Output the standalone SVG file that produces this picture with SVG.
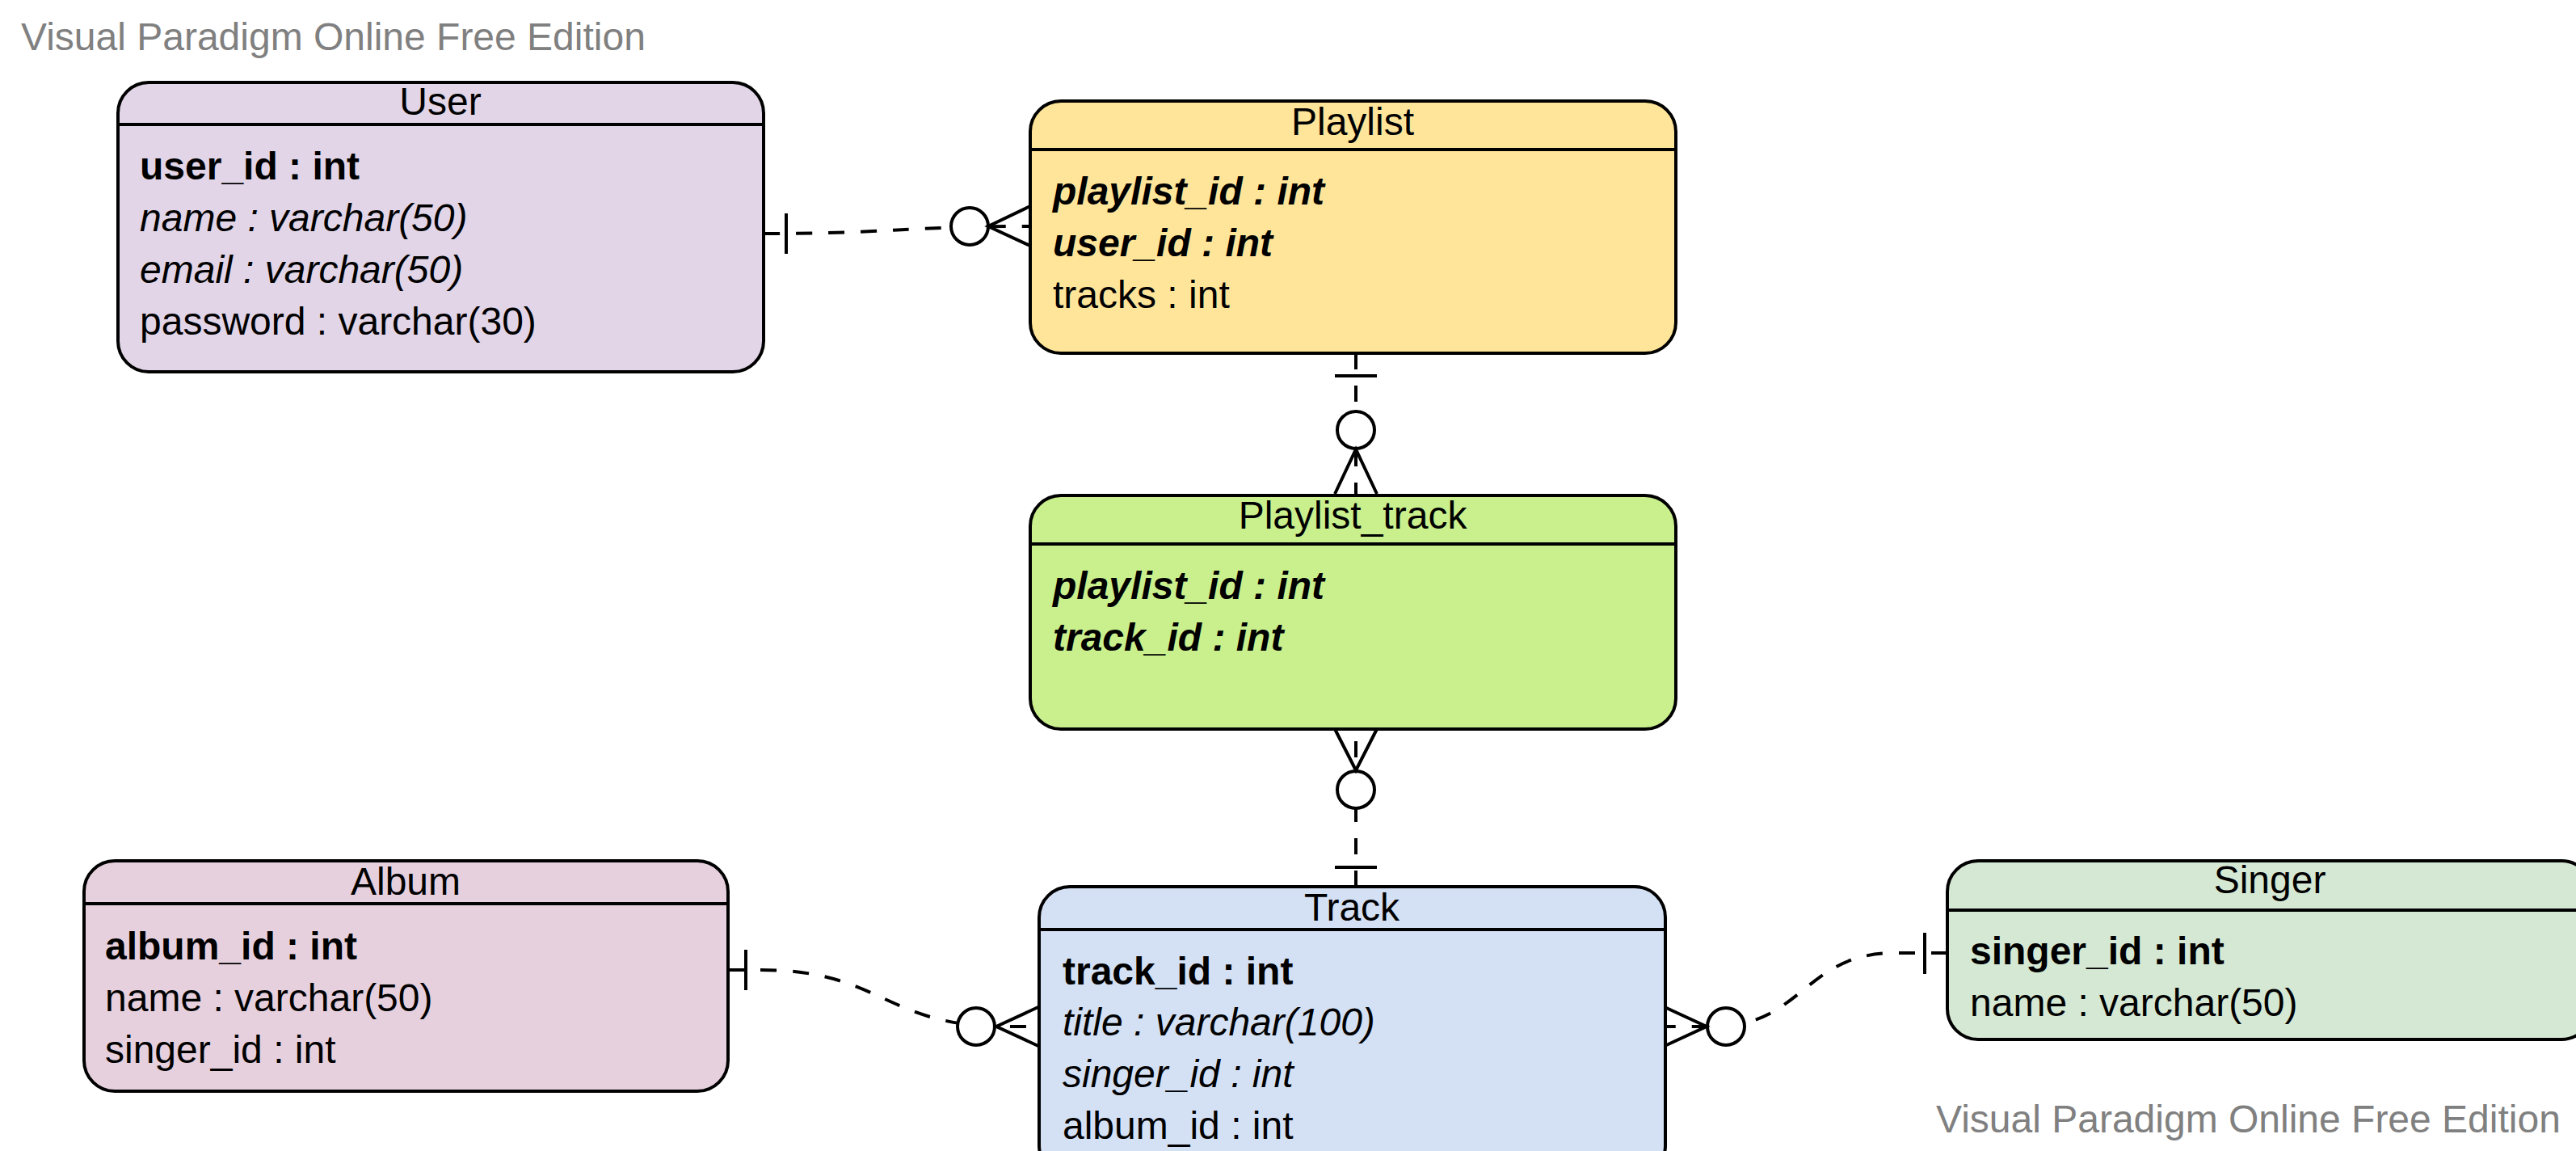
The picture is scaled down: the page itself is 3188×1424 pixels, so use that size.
<svg xmlns="http://www.w3.org/2000/svg" width="3188" height="1424" viewBox="0 0 3188 1424">
<style>
text{font-family:"Liberation Sans",Arial,sans-serif;font-size:48px;fill:#000}
.wm{fill:#808080}
.title{text-anchor:middle}
.b{font-weight:bold}
.i{font-style:italic}
.bi{font-weight:bold;font-style:italic}
.box{stroke:#000;stroke-width:4}
.hl{stroke:#000;stroke-width:4}
.conn{fill:none;stroke:#000;stroke-width:4;stroke-dasharray:20 20}
.mk{fill:none;stroke:#000;stroke-width:4}
.circ{fill:#fff;stroke:#000;stroke-width:4}
</style>
<rect width="3188" height="1424" fill="#fff"/>
<text class="wm" x="26" y="62">Visual Paradigm Online Free Edition</text>
<text class="wm" x="2396" y="1401">Visual Paradigm Online Free Edition</text>

<g id="connectors">
<path class="conn" d="M945,289 C1111,289 1111,280 1277,280"/>
<line class="mk" x1="973" y1="264" x2="973" y2="314"/>
<circle class="circ" cx="1200" cy="280" r="23"/>
<path class="mk" d="M1277,254 L1223,280 L1277,305"/>

<path class="conn" d="M1678,437 V612"/>
<line class="mk" x1="1652" y1="465" x2="1704" y2="465"/>
<circle class="circ" cx="1678" cy="532" r="23"/>
<path class="mk" d="M1652,611 L1678,556 L1704,611"/>

<path class="conn" d="M1678,1097 V902"/>
<line class="mk" x1="1652" y1="1073" x2="1704" y2="1073"/>
<circle class="circ" cx="1678" cy="977" r="23"/>
<path class="mk" d="M1652,902 L1678,953 L1704,902"/>

<path class="conn" d="M901,1200 H941 C1093,1200 1093,1270 1245,1270 H1287"/>
<line class="mk" x1="923" y1="1175" x2="923" y2="1225"/>
<circle class="circ" cx="1208" cy="1270" r="23"/>
<path class="mk" d="M1287,1245 L1233,1270 L1287,1295"/>

<path class="conn" d="M2410,1179 H2345 C2232,1179 2232,1270 2120,1270 H2061"/>
<line class="mk" x1="2382" y1="1154" x2="2382" y2="1205"/>
<circle class="circ" cx="2136" cy="1270" r="23"/>
<path class="mk" d="M2058,1245 L2112,1270 L2058,1295"/>
</g>

<g id="User">
<rect class="box" x="146" y="102" width="799" height="358" rx="38" fill="#E1D5E7"/>
<line class="hl" x1="146" y1="154" x2="945" y2="154"/>
<text class="title" x="545" y="142">User</text>
<text class="b" x="173" y="222">user_id : int</text>
<text class="i" x="173" y="286">name : varchar(50)</text>
<text class="i" x="173" y="350">email : varchar(50)</text>
<text x="173" y="414">password : varchar(30)</text>
</g>

<g id="Playlist">
<rect class="box" x="1275" y="125" width="799" height="312" rx="38" fill="#FFE599"/>
<line class="hl" x1="1275" y1="185" x2="2074" y2="185"/>
<text class="title" x="1674" y="167">Playlist</text>
<text class="bi" x="1303" y="253">playlist_id : int</text>
<text class="bi" x="1303" y="317">user_id : int</text>
<text x="1303" y="381">tracks : int</text>
</g>

<g id="Playlist_track">
<rect class="box" x="1275" y="613" width="799" height="289" rx="38" fill="#C9F08D"/>
<line class="hl" x1="1275" y1="673" x2="2074" y2="673"/>
<text class="title" x="1674" y="654">Playlist_track</text>
<text class="bi" x="1303" y="741">playlist_id : int</text>
<text class="bi" x="1303" y="805">track_id : int</text>
</g>

<g id="Album">
<rect class="box" x="104" y="1065" width="797" height="285" rx="38" fill="#E6D0DE"/>
<line class="hl" x1="104" y1="1118" x2="901" y2="1118"/>
<text class="title" x="502" y="1107">Album</text>
<text class="b" x="130" y="1187">album_id : int</text>
<text x="130" y="1251">name : varchar(50)</text>
<text x="130" y="1315">singer_id : int</text>
</g>

<g id="Track">
<rect class="box" x="1286" y="1097" width="775" height="358" rx="38" fill="#D4E1F5"/>
<line class="hl" x1="1286" y1="1150" x2="2061" y2="1150"/>
<text class="title" x="1673" y="1139">Track</text>
<text class="b" x="1315" y="1218">track_id : int</text>
<text class="i" x="1315" y="1281">title : varchar(100)</text>
<text class="i" x="1315" y="1345">singer_id : int</text>
<text x="1315" y="1409">album_id : int</text>
</g>

<g id="Singer">
<rect class="box" x="2410" y="1065" width="798" height="221" rx="38" fill="#D5E8D4"/>
<line class="hl" x1="2410" y1="1126" x2="3208" y2="1126"/>
<text class="title" x="2809" y="1105">Singer</text>
<text class="b" x="2438" y="1193">singer_id : int</text>
<text x="2438" y="1257">name : varchar(50)</text>
</g>
</svg>
